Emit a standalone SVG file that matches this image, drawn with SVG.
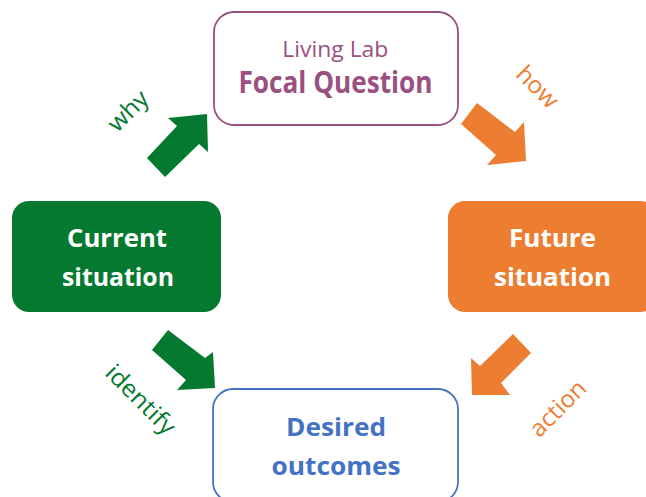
<svg xmlns="http://www.w3.org/2000/svg" width="646" height="497" viewBox="0 0 646 497">
<style>
.t{font-family:"Open Sans","Noto Sans","DejaVu Sans",sans-serif;text-anchor:middle}
.b{font-weight:bold;font-size:25px}
.w{fill:#ffffff}
.lbl{font-size:24px}
.g{fill:#05792F}
.o{fill:#ED7D31}
</style>
<rect width="646" height="497" fill="#ffffff"/>
<g id="connectors">
<polygon class="g" points="147,158 177,126 168,118 207,114 208,152 199,144 165,177"/>
<polygon class="o" points="477,103 515,132 524,122 526,161 487,165 496,155 461,124"/>
<polygon class="g" points="168,330 205,358 213,352 215,388 177,390 186,380 152,350"/>
<polygon class="o" points="513,334 531,353 501,383 510,395 472,395 471,358 480,366"/>
<text class="t lbl g" transform="translate(129.5,112.5) rotate(-45)" y="6" textLength="47" lengthAdjust="spacingAndGlyphs">why</text>
<text class="t lbl o" transform="translate(536,88.5) rotate(45)" y="6" textLength="49" lengthAdjust="spacingAndGlyphs">how</text>
<text class="t lbl g" transform="translate(139,401) rotate(45)" y="6" textLength="88" lengthAdjust="spacingAndGlyphs">identify</text>
<text class="t lbl o" transform="translate(558,408.5) rotate(-45)" y="8" textLength="69" lengthAdjust="spacingAndGlyphs">action</text>
</g>
<g id="focal">
<rect x="214" y="12" width="244" height="113" rx="20" fill="#ffffff" stroke="#9A5080" stroke-width="1.8"/>
<text class="t" x="335.3" y="57.3" font-size="22.5" fill="#9A5080" textLength="106" lengthAdjust="spacingAndGlyphs">Living Lab</text>
<text class="t" x="335.5" y="93.3" font-size="30" font-weight="bold" fill="#9A5080" textLength="194" lengthAdjust="spacingAndGlyphs">Focal Question</text>
</g>
<g id="current">
<rect x="12" y="201" width="209" height="111" rx="17" fill="#05792F"/>
<text class="t b w" x="117" y="247" textLength="100" lengthAdjust="spacingAndGlyphs">Current</text>
<text class="t b w" x="118" y="286" textLength="112" lengthAdjust="spacingAndGlyphs">situation</text>
</g>
<g id="future">
<rect x="448" y="201" width="209" height="111" rx="17" fill="#ED7D31"/>
<text class="t b w" x="552.5" y="247" textLength="87" lengthAdjust="spacingAndGlyphs">Future</text>
<text class="t b w" x="552.5" y="286" textLength="117" lengthAdjust="spacingAndGlyphs">situation</text>
</g>
<g id="desired">
<rect x="213" y="389" width="245" height="113" rx="20" fill="#ffffff" stroke="#4472C4" stroke-width="1.8"/>
<text class="t b" x="336" y="436" fill="#4472C4" textLength="100" lengthAdjust="spacingAndGlyphs">Desired</text>
<text class="t b" x="336" y="475" fill="#4472C4" textLength="129" lengthAdjust="spacingAndGlyphs">outcomes</text>
</g>
</svg>
